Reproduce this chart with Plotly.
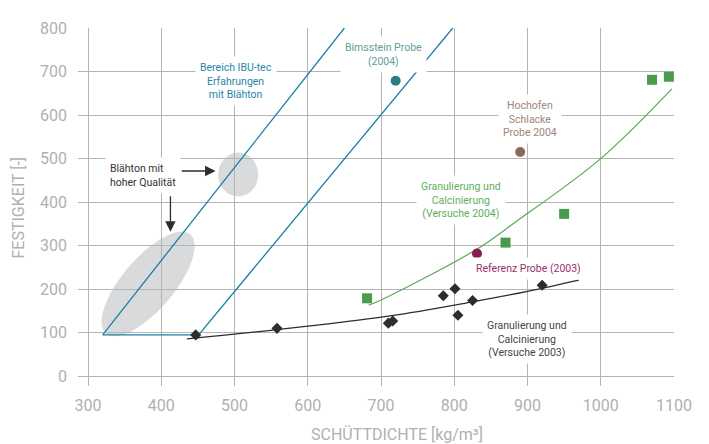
import numpy as np
import plotly.graph_objects as go

# ---------------- data ----------------
x_ticks = [300, 400, 500, 600, 700, 800, 900, 1000, 1100]
y_ticks = [0, 100, 200, 300, 400, 500, 600, 700, 800]

# IBU-tec range boundary (blue)
ibu_x = [650, 320, 451, 798]
ibu_y = [800, 95, 95, 800]

# Granulierung 2003 trend (black)
trend03_x = [435, 558, 710, 825, 900, 970]
trend03_y = [86, 107, 138, 171, 195, 221]

# Granulierung 2004 trend (green)
trend04_x = [683, 700, 830, 880, 1000, 1097]
trend04_y = [163, 175, 291, 350, 500, 660]

# Versuche 2003 (diamonds)
v03_x = [447, 558, 710, 716, 785, 801, 805, 825, 920]
v03_y = [95, 110, 122, 127, 185, 201, 140, 174, 209]

# Versuche 2004 (squares)
v04_x = [681, 870, 950, 1070, 1093]
v04_y = [179, 307, 373, 681, 688]

bims_x, bims_y = [720], [679]
hoch_x, hoch_y = [890], [515]
ref_x, ref_y = [831], [282]

# ---------------- layout geometry ----------------
OFF = 8  # page body margin
W, H = 701, 436
ML, MR, MT, MB = 70, 35, 11, 58
XR = [286.3, 1100]
YR = [-22.4, 800]
PW, PH = W - ML - MR, H - MT - MB
pxx = PW / (XR[1] - XR[0])
pxy = PH / (YR[1] - YR[0])

GRID = "#b4b4b4"
FONT = "Roboto"

fig = go.Figure()

fig.add_trace(go.Scatter(x=ibu_x, y=ibu_y, mode="lines",
                         line=dict(color="#1b7fa5", width=1.3), hoverinfo="skip"))
fig.add_trace(go.Scatter(x=trend04_x, y=trend04_y, mode="lines",
                         line=dict(color="#5aa957", width=1.2, shape="spline"), hoverinfo="skip"))
fig.add_trace(go.Scatter(x=trend03_x, y=trend03_y, mode="lines",
                         line=dict(color="#2d2d2d", width=1.2, shape="spline"), hoverinfo="skip"))
fig.add_trace(go.Scatter(x=v03_x, y=v03_y, mode="markers",
                         marker=dict(symbol="diamond", size=8.5, color="#2d2d2d")))
fig.add_trace(go.Scatter(x=v04_x, y=v04_y, mode="markers",
                         marker=dict(symbol="square", size=10, color="#4a9b4c")))
fig.add_trace(go.Scatter(x=bims_x, y=bims_y, mode="markers",
                         marker=dict(symbol="circle", size=10, color="#2a7f7c")))
fig.add_trace(go.Scatter(x=hoch_x, y=hoch_y, mode="markers",
                         marker=dict(symbol="circle", size=10, color="#8a6a55")))
fig.add_trace(go.Scatter(x=ref_x, y=ref_y, mode="markers",
                         marker=dict(symbol="circle", size=10, color="#8c1b55")))

# ---------------- ellipses (decoration) ----------------
ell_cx, ell_cy = 382, 212
ell_a, ell_b, ell_ang = 66, 26, np.radians(50.5)  # semi-axes in px, angle
t = np.linspace(0, 2 * np.pi, 73)
dxp = ell_a * np.cos(t) * np.cos(ell_ang) - ell_b * np.sin(t) * np.sin(ell_ang)
dyp = ell_a * np.cos(t) * np.sin(ell_ang) + ell_b * np.sin(t) * np.cos(ell_ang)
ex = ell_cx + dxp / pxx
ey = ell_cy + dyp / pxy
path = "M " + " L ".join(f"{a:.2f},{b:.2f}" for a, b in zip(ex, ey)) + " Z"
fig.add_shape(type="path", path=path, xref="x", yref="y", layer="below",
              fillcolor="#d9dadb", line=dict(width=0))

circ_cx, circ_cy, circ_rx, circ_ry = 505, 463.4, 20, 22.5  # radii in px
fig.add_shape(type="circle", xref="x", yref="y", layer="below",
              x0=circ_cx - circ_rx / pxx, x1=circ_cx + circ_rx / pxx,
              y0=circ_cy - circ_ry / pxy, y1=circ_cy + circ_ry / pxy,
              fillcolor="#d9dadb", line=dict(width=0))

# ---------------- annotations ----------------
def lab(x, y, text, color, xanchor="center", align="center"):
    fig.add_annotation(x=x, y=y, xref="x", yref="y", text=text, showarrow=False,
                       font=dict(family=FONT, size=10.5, color=color),
                       xanchor=xanchor, align=align, bgcolor="white", borderpad=4)

lab(502, 678, "Bereich IBU-tec<br>Erfahrungen<br>mit Blähton", "#2a86a8")
lab(703, 740, "Bimsstein Probe<br>(2004)", "#5f9e9c")
lab(903, 591, "Hochofen<br>Schlacke<br>Probe 2004", "#a0857a")
lab(809, 406, "Granulierung und<br>Calcinierung<br>(Versuche 2004)", "#5fae5c")
lab(902, 247, "Referenz Probe (2003)", "#9a3068")
lab(899, 84.5, "Granulierung und<br>Calcinierung<br>(Versuche 2003)", "#444444")
lab(323, 461, "Blähton mit<br>hoher Qualität", "#333333", xanchor="left", align="left")

# arrows
fig.add_annotation(x=474, y=471.5, ax=426, ay=471.5, xref="x", yref="y", axref="x", ayref="y",
                   text="", showarrow=True, arrowhead=2, arrowsize=1.6, arrowwidth=1.3,
                   arrowcolor="#2d2d2d")
fig.add_annotation(x=412.5, y=332, ax=412.5, ay=417, xref="x", yref="y", axref="x", ayref="y",
                   text="", showarrow=True, arrowhead=2, arrowsize=1.6, arrowwidth=1.3,
                   arrowcolor="#2d2d2d")

# axis titles (positions in page px converted to paper coords)
def paper_x(px):
    return (px - OFF - ML) / PW

def paper_y(py):
    return (H - MB - (py - OFF)) / PH

fig.add_annotation(xref="paper", yref="paper", x=paper_x(18), y=paper_y(203),
                   xanchor="center", yanchor="middle",
                   text="FESTIGKEIT [-]", textangle=-90, showarrow=False,
                   font=dict(family=FONT, size=16, color="#b0b0b0"))
fig.add_annotation(xref="paper", yref="paper", x=paper_x(397), y=paper_y(436),
                   xanchor="center", yanchor="middle",
                   text="SCHÜTTDICHTE [kg/m³]", showarrow=False,
                   font=dict(family=FONT, size=16, color="#b0b0b0"))

fig.update_layout(
    width=W, height=H, margin=dict(l=ML, r=MR, t=MT, b=MB),
    paper_bgcolor="white", plot_bgcolor="white", showlegend=False,
    font=dict(family=FONT),
    xaxis=dict(range=XR, tickvals=x_ticks, showgrid=True, gridcolor=GRID, gridwidth=1,
               zeroline=False, showline=False, ticks="", ticklabelstandoff=8,
               tickfont=dict(family=FONT, size=16, color="#b0b0b0")),
    yaxis=dict(range=YR, tickvals=y_ticks, showgrid=True, gridcolor=GRID, gridwidth=1,
               zeroline=False, showline=False, ticks="", ticklabelstandoff=10,
               tickfont=dict(family=FONT, size=16, color="#b0b0b0")),
)

fig.write_html("out.html")
